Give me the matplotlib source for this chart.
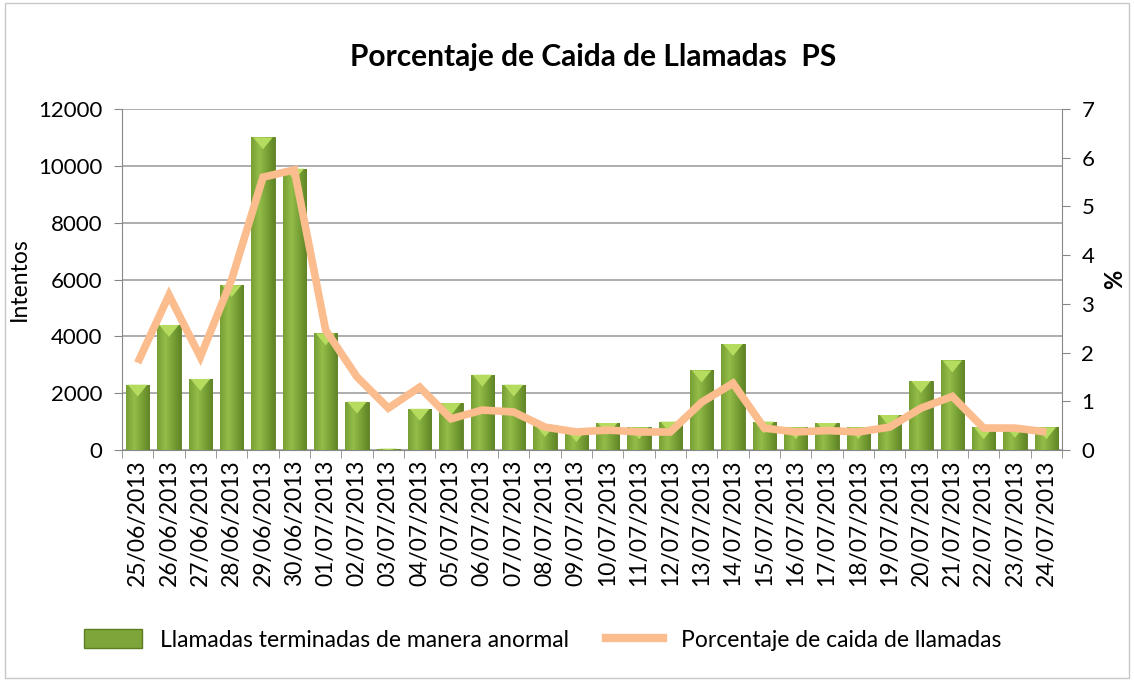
import matplotlib
matplotlib.use("Agg")
import matplotlib.pyplot as plt
import numpy as np
from matplotlib.patches import Rectangle
from matplotlib.lines import Line2D
from matplotlib.colors import LinearSegmentedColormap

dates = ["25/06/2013", "26/06/2013", "27/06/2013", "28/06/2013", "29/06/2013",
         "30/06/2013", "01/07/2013", "02/07/2013", "03/07/2013", "04/07/2013",
         "05/07/2013", "06/07/2013", "07/07/2013", "08/07/2013", "09/07/2013",
         "10/07/2013", "11/07/2013", "12/07/2013", "13/07/2013", "14/07/2013",
         "15/07/2013", "16/07/2013", "17/07/2013", "18/07/2013", "19/07/2013",
         "20/07/2013", "21/07/2013", "22/07/2013", "23/07/2013", "24/07/2013"]
llamadas = [2300, 4400, 2500, 5800, 11000, 9900, 4100, 1700, 50, 1450,
            1650, 2650, 2300, 880, 700, 950, 800, 1000, 2800, 3730,
            1000, 800, 950, 800, 1230, 2430, 3150, 800, 850, 800]
porcentaje = [1.79, 3.18, 1.91, 3.5, 5.6, 5.75, 2.46, 1.5, 0.86, 1.29,
              0.64, 0.82, 0.78, 0.47, 0.37, 0.41, 0.37, 0.37, 0.98, 1.37,
              0.45, 0.37, 0.40, 0.37, 0.47, 0.86, 1.10, 0.45, 0.45, 0.37]
left_ticks = [0, 2000, 4000, 6000, 8000, 10000, 12000]
right_ticks = [0, 1, 2, 3, 4, 5, 6, 7]

plt.rcParams['font.family'] = ['Lato', 'DejaVu Sans']

fig = plt.figure(figsize=(11.34, 6.81), dpi=100)
fig.patch.set_facecolor('white')
fig.add_artist(Rectangle((0.004, 0.004), 0.992, 0.992, transform=fig.transFigure,
                         fill=False, edgecolor='#c8c8c8', linewidth=1.0))

ax = fig.add_axes([122/1134, 1 - 450/681, (1062-122)/1134, (450-109)/681])
x = np.arange(len(dates))
bars = ax.bar(x, llamadas, width=0.74, color='#7ea539', edgecolor='#5c7d22',
              linewidth=0.6, zorder=3)

# gradient shading on bars
grad = np.linspace(0, 1, 64)
shade = 1 - np.abs(grad - 0.35) * 1.1
cmap = LinearSegmentedColormap.from_list('g', ['#4f6e1c', '#6e9630', '#93bd48'])
for b in bars:
    bx, by = b.get_x(), b.get_y()
    bw, bh = b.get_width(), b.get_height()
    if bh <= 0:
        continue
    im = ax.imshow(shade[np.newaxis, :], cmap=cmap, aspect='auto',
                   extent=[bx, bx + bw, by, by + bh], zorder=3.5,
                   vmin=0, vmax=1)
    im.set_clip_path(b)
    cap_h = min(bh, 420)
    ax.fill([bx + bw*0.08, bx + bw*0.92, bx + bw*0.5],
            [by + bh, by + bh, by + bh - cap_h], color='#b5dc5e', zorder=3.6,
            linewidth=0)

ax.set_xlim(-0.5, len(dates) - 0.5)
ax.set_ylim(0, 12000)
ax.set_yticks(left_ticks)
ax.set_yticklabels([str(t) for t in left_ticks], fontsize=16)
ax.yaxis.grid(True, color='#a0a0a0', linewidth=1.2, zorder=0)
ax.set_axisbelow(True)
ax.set_xticks(x)
ax.set_xticklabels(dates, rotation=90, fontsize=16.5)
ax.set_xticks(np.arange(-0.5, len(dates), 1), minor=True)
ax.tick_params(axis='x', which='major', length=0, pad=7)
ax.tick_params(axis='x', which='minor', length=6, color='#888888', direction='out')
ax.tick_params(axis='y', length=6, color='#888888', direction='out', pad=8)
for s in ['top', 'right']:
    ax.spines[s].set_visible(False)
ax.spines['left'].set_color('#888888')
ax.spines['bottom'].set_color('#888888')
ax.set_ylabel('Intentos', fontsize=16.5, labelpad=6)

ax2 = ax.twinx()
ax2.plot(x, porcentaje, color='#fbbd8e', linewidth=5.5, solid_joinstyle='miter',
         solid_capstyle='butt', zorder=5)
ax2.set_ylim(0, 7)
ax2.set_yticks(right_ticks)
ax2.set_yticklabels([str(t) for t in right_ticks], fontsize=16)
ax2.tick_params(axis='y', length=6, color='#888888', direction='out', pad=8)
for s in ['top', 'left', 'bottom']:
    ax2.spines[s].set_visible(False)
ax2.spines['right'].set_color('#888888')
ax2.set_ylabel('%', fontsize=17, fontweight='bold', rotation=90, labelpad=6)

fig.text(593/1134, 1 - 57/681, 'Porcentaje de Caida de Llamadas  PS', ha='center',
         va='center', fontsize=21.5, fontweight='bold')

handles = [Rectangle((0, 0), 1, 1, facecolor='#7ea539', edgecolor='#5c7d22'),
           Line2D([0], [0], color='#fbbd8e', linewidth=6)]
fig.legend(handles, ['Llamadas terminadas de manera anormal',
                     'Porcentaje de caida de llamadas'],
           loc='center', bbox_to_anchor=(543/1134, 1 - 640/681), ncol=2,
           frameon=False, fontsize=16.5, handlelength=2.5, columnspacing=1.6,
           handleheight=0.9, handletextpad=0.8)

fig.savefig('out.png', dpi=100)
